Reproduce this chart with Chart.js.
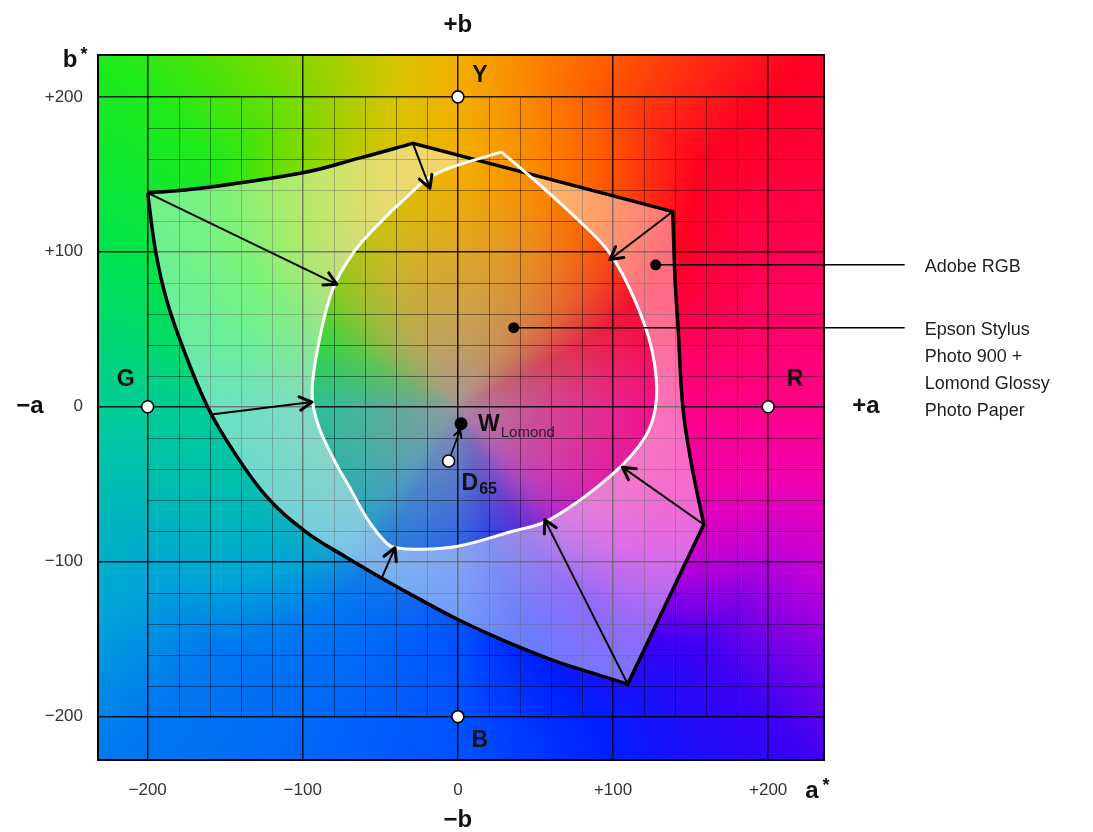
<!DOCTYPE html>
<html>
<head>
<meta charset="utf-8">
<script src="https://cdn.jsdelivr.net/npm/chart.js@4.4.1/dist/chart.umd.min.js"></script>
<style>
  html, body { margin: 0; padding: 0; background: #fff; }
  canvas { display: block; }
</style>
</head>
<body>
<canvas id="labChart" width="1093" height="832"></canvas>
<script>
// a*/b* values
const axisTicks = [-200, -100, 0, 100, 200];

// corners are listed twice so the spline keeps them sharp
const adobeA = [-200, -166, -100, -63, -29, -29, 138.5, 138.5, 140, 142, 145, 150, 158.5, 158.5, 109.5, 109.5,
  85.3, 59.6, 27.4, 0.3, -24.2, -49.3, -73.1, -98.2, -123.3, -145.3, -161.4, -176.8, -187.8, -194.8, -200];
const adobeB = [138, 141, 151, 160.6, 170, 170, 126, 126, 82, 50, 0, -34, -76, -76, -179, -179,
  -171.5, -163, -150, -137.5, -124.5, -110.5, -96.5, -80.6, -58, -27.7, 0, 36.8, 69, 100, 138];

const epsonA = [28, 53, 76, 98, 114, 125, 128, 121, 98, 59, 33, 0, -24, -40, -46, -58, -69, -80, -90, -94, -90.5, -81, -67, -50, -35, -15, 28];
const epsonB = [164.5, 143, 122, 99, 69, 37, 5, -19, -45, -73, -81, -90, -92, -91, -88, -73, -53.5, -34, -12, 8, 37, 75, 100, 119, 133.5, 150, 164.5];

const arrowFromA = [-29, -200, 138.5, -159, -49.3, 109.5, 158.5];
const arrowFromB = [170, 138, 126, -5, -111, -179, -76];
const arrowToA = [-18, -78, 98, -94, -40.5, 56, 106];
const arrowToB = [141, 79, 95, 3, -91, -73, -39];

const primNames = ['Y', 'G', 'R', 'B'];
const primA = [0, -200, 200, 0];
const primB = [200, 0, 0, -200];

const wLomond = { a: 2, b: -11 };
const d65 = { a: -6, b: -35 };

const leaderA = [127.5, 36];
const leaderB = [91.6, 51];
const leaderEndA = 288;
const leaderText = [['Adobe RGB'], ['Epson Stylus', 'Photo 900 +', 'Lomond Glossy', 'Photo Paper']];

// background hue wheel: angle of (a*, b*) in degrees -> saturated colour
const hueAngles = [-180, -150, -135, -110, -90, -66, -45, -25, -12, 0, 20, 45, 66, 80, 90, 100, 120, 135, 155, 180];
const hueColors = [
  [0, 205, 150], [0, 165, 215], [0, 120, 240], [0, 98, 250], [0, 82, 255], [0, 30, 255], [60, 0, 245],
  [195, 0, 215], [240, 0, 175], [255, 0, 135], [255, 0, 95], [255, 0, 35], [255, 90, 0], [250, 140, 0],
  [242, 175, 0], [215, 195, 0], [110, 222, 0], [30, 235, 25], [0, 228, 75], [0, 205, 150]
];
const neutral = [160, 148, 160];

const FONT = '"Liberation Sans", Arial, Helvetica, sans-serif';
const pts = (xs, ys) => xs.map((v, i) => ({ x: v, y: ys[i] }));

function bgColor(a, b) {
  const r = Math.hypot(a, b);
  let ang = Math.atan2(b, a) * 180 / Math.PI;
  // hues drift toward yellow / blue-violet nearer the neutral axis
  const w = 1 - Math.pow(Math.min(1, r / 220), 2);
  ang += 25 * Math.sin(2 * Math.abs(ang) * Math.PI / 180) * w;
  if (ang > 180) ang -= 360;
  if (ang < -180) ang += 360;
  let i = 0;
  while (i < hueAngles.length - 2 && ang > hueAngles[i + 1]) i++;
  const t = (ang - hueAngles[i]) / (hueAngles[i + 1] - hueAngles[i]);
  const c0 = hueColors[i], c1 = hueColors[i + 1];
  const s = Math.pow(Math.min(1, r / 150), 0.7);
  return [0, 1, 2].map(k => Math.round(neutral[k] + s * (c0[k] + t * (c1[k] - c0[k]) - neutral[k])));
}

const labBackground = {
  id: 'labBackground',
  beforeDraw(chart) {
    const { ctx, chartArea: ca, scales: { x, y } } = chart;
    const left = Math.round(ca.left), top = Math.round(ca.top);
    const w = Math.round(ca.right) - left, h = Math.round(ca.bottom) - top;
    const img = ctx.createImageData(w, h);
    for (let j = 0; j < h; j++) {
      const bv = y.getValueForPixel(top + j + 0.5);
      for (let i = 0; i < w; i++) {
        const c = bgColor(x.getValueForPixel(left + i + 0.5), bv);
        const k = (j * w + i) * 4;
        img.data[k] = c[0]; img.data[k + 1] = c[1]; img.data[k + 2] = c[2]; img.data[k + 3] = 255;
      }
    }
    ctx.putImageData(img, left, top);
  }
};

const gridAndRing = {
  id: 'gridAndRing',
  beforeDatasetsDraw(chart) {
    const { ctx, chartArea: ca, scales: { x, y } } = chart;
    ctx.save();
    // fine 20-unit grid inside the ±200 box
    ctx.strokeStyle = 'rgba(0,0,0,0.42)';
    ctx.lineWidth = 1;
    ctx.beginPath();
    for (let v = -180; v <= 180; v += 20) {
      if (v % 100 === 0) continue;
      const px = Math.round(x.getPixelForValue(v)) + 0.5;
      ctx.moveTo(px, y.getPixelForValue(200));
      ctx.lineTo(px, y.getPixelForValue(-200));
      const py = Math.round(y.getPixelForValue(v)) + 0.5;
      ctx.moveTo(x.getPixelForValue(-200), py);
      ctx.lineTo(ca.right, py);
    }
    ctx.stroke();

    // lighten Adobe RGB where it lies outside the Epson gamut
    const n = chart.data.datasets.length;
    const adobe = chart.getDatasetMeta(n - 1).dataset;
    const epson = chart.getDatasetMeta(n - 2).dataset;
    adobe.updateControlPoints(ca, 'x');
    epson.updateControlPoints(ca, 'x');
    ctx.save();
    ctx.beginPath();
    ctx.rect(ca.left, ca.top, ca.right - ca.left, ca.bottom - ca.top);
    epson.path(ctx);
    ctx.closePath();
    ctx.clip('evenodd');
    ctx.beginPath();
    adobe.path(ctx);
    ctx.closePath();
    ctx.fillStyle = 'rgba(255,255,255,0.42)';
    ctx.fill();
    ctx.restore();

    ctx.strokeStyle = '#000';
    ctx.lineWidth = 2;
    ctx.strokeRect(ca.left, ca.top, ca.right - ca.left, ca.bottom - ca.top);
    ctx.restore();
  },
  afterDatasetsDraw(chart) {
    const { ctx, scales: { x, y } } = chart;
    ctx.save();
    // arrow heads
    chart.data.datasets.forEach((ds, i) => {
      if (!ds.arrow) return;
      const [p0, p1] = chart.getDatasetMeta(i).data;
      const th = Math.atan2(p1.y - p0.y, p1.x - p0.x);
      const len = ds.arrow, phi = 0.5;
      ctx.strokeStyle = '#000';
      ctx.lineWidth = ds.arrow > 10 ? 3 : 2;
      ctx.lineCap = 'round';
      ctx.lineJoin = 'round';
      ctx.beginPath();
      ctx.moveTo(p1.x - len * Math.cos(th - phi), p1.y - len * Math.sin(th - phi));
      ctx.lineTo(p1.x, p1.y);
      ctx.lineTo(p1.x - len * Math.cos(th + phi), p1.y - len * Math.sin(th + phi));
      ctx.stroke();
    });

    const text = (s, px, py, font, align, color) => {
      ctx.font = font;
      ctx.textAlign = align || 'center';
      ctx.textBaseline = 'middle';
      ctx.fillStyle = color || '#111';
      ctx.fillText(s, px, py);
    };
    const bold22 = 'bold 23px ' + FONT;
    const x0 = x.getPixelForValue(0), y0 = y.getPixelForValue(0);

    // primaries
    const primOffsets = [[22, -21], [-22, -27], [27, -27], [22, 24]];
    primNames.forEach((nm, i) => {
      text(nm, x.getPixelForValue(primA[i]) + primOffsets[i][0], y.getPixelForValue(primB[i]) + primOffsets[i][1], bold22);
    });

    // white points
    let px = x.getPixelForValue(wLomond.a) + 17, py = y.getPixelForValue(wLomond.b) + 1;
    text('W', px, py, bold22, 'left');
    ctx.font = bold22;
    text('Lomond', px + ctx.measureText('W').width + 1, py + 8, '15px ' + FONT, 'left', '#2b1a2e');
    px = x.getPixelForValue(d65.a) + 13; py = y.getPixelForValue(d65.b) + 23;
    text('D', px, py, bold22, 'left');
    ctx.font = bold22;
    text('65', px + ctx.measureText('D').width + 1, py + 6, 'bold 16px ' + FONT, 'left');

    // axis names
    const bold24 = 'bold 24px ' + FONT;
    text('+b', x0, 25, bold24);
    text('\u2212b', x0, 820, bold24);
    text('\u2212a', 30, y0, bold24);
    text('+a', 866, y0, bold24);
    text('b', 70, 60, bold24);
    text('*', 84, 55, 'bold 18px ' + FONT);
    text('a', 812, 791, bold24);
    text('*', 826, 786, 'bold 18px ' + FONT);

    // leader captions
    leaderText.forEach((lines, i) => {
      const lx = x.getPixelForValue(leaderEndA) + 20;
      const ly = y.getPixelForValue(leaderB[i]) + 2;
      lines.forEach((s, k) => text(s, lx, ly + k * 27, '18px ' + FONT, 'left', '#1e1e1e'));
    });
    ctx.restore();
  }
};

const datasets = [
  {
    data: pts(primA, primB), pointRadius: 6, pointBackgroundColor: '#fff',
    pointBorderColor: '#000', pointBorderWidth: 1.6, showLine: false
  },
  {
    data: [{ x: wLomond.a, y: wLomond.b }], pointRadius: 6.5, pointBackgroundColor: '#000',
    pointBorderColor: '#000', pointBorderWidth: 0, showLine: false
  },
  {
    data: [{ x: d65.a, y: d65.b }], pointRadius: 6, pointBackgroundColor: '#fff',
    pointBorderColor: '#000', pointBorderWidth: 1.6, showLine: false
  }
];
leaderA.forEach((a, i) => {
  datasets.push({
    data: [{ x: a, y: leaderB[i] }, { x: leaderEndA, y: leaderB[i] }], showLine: true,
    borderColor: '#000', borderWidth: 1.6, pointRadius: 5.5, pointBackgroundColor: '#000',
    pointBorderWidth: 0, clip: false
  });
});
// D65 -> W arrow
datasets.push({
  data: [{ x: d65.a + 1.5, y: d65.b + 4 }, { x: wLomond.a - 0.5, y: wLomond.b - 4 }], showLine: true,
  borderColor: '#000', borderWidth: 1.6, pointRadius: 0, arrow: 8
});
arrowFromA.forEach((a, i) => {
  datasets.push({
    data: [{ x: a, y: arrowFromB[i] }, { x: arrowToA[i], y: arrowToB[i] }], showLine: true,
    borderColor: '#000', borderWidth: 2, pointRadius: 0, arrow: 14
  });
});
datasets.push({
  label: 'Epson Stylus Photo 900 + Lomond Glossy Photo Paper',
  data: pts(epsonA, epsonB), showLine: true, borderColor: '#fff', borderWidth: 3,
  tension: 0.35, pointRadius: 0, fill: false
});
datasets.push({
  label: 'Adobe RGB',
  data: pts(adobeA, adobeB), showLine: true, borderColor: '#000', borderWidth: 3.5,
  tension: 0.4, pointRadius: 0, fill: false
});
datasets.forEach((d, i) => { d.order = i; });

const tickLabel = v => v > 0 ? '+' + v : v < 0 ? '\u2212' + Math.abs(v) : '0';
const setTicks = s => { s.ticks = axisTicks.map(v => ({ value: v })); };

new Chart(document.getElementById('labChart'), {
  type: 'scatter',
  data: { datasets },
  options: {
    responsive: false,
    animation: false,
    devicePixelRatio: 1,
    layout: { padding: { left: 0, top: 55, right: 269, bottom: 0 } },
    plugins: { legend: { display: false }, tooltip: { enabled: false } },
    scales: {
      x: {
        type: 'linear', min: -232, max: 236,
        afterBuildTicks: setTicks,
        afterFit: s => { s.height = 72; },
        grid: { color: 'rgba(0,0,0,0.85)', lineWidth: 1.5, drawTicks: false },
        border: { display: false },
        ticks: { callback: tickLabel, padding: 20, color: '#333', font: { family: FONT, size: 17 } }
      },
      y: {
        type: 'linear', min: -228, max: 227,
        afterBuildTicks: setTicks,
        afterFit: s => { s.width = 98; },
        grid: { color: 'rgba(0,0,0,0.85)', lineWidth: 1.5, drawTicks: false },
        border: { display: false },
        ticks: { callback: tickLabel, padding: 15, color: '#333', font: { family: FONT, size: 17 } }
      }
    }
  },
  plugins: [labBackground, gridAndRing]
});
</script>
</body>
</html>
